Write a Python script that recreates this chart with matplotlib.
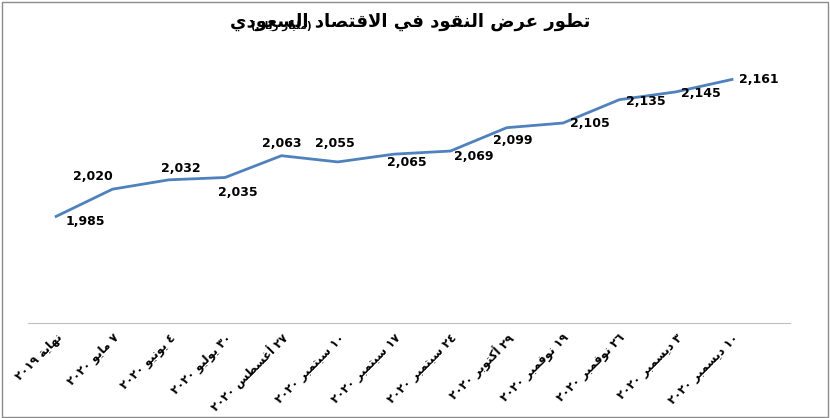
import matplotlib
matplotlib.use("Agg")
import matplotlib.pyplot as plt
from matplotlib.patches import Rectangle

# ---- minimal Arabic shaping (presentation forms) ----
FORMS = {  # isolated, final, initial, medial
    'ا': ('\uFE8D', '\uFE8E', None, None), 'أ': ('\uFE83', '\uFE84', None, None),
    'ب': ('\uFE8F', '\uFE90', '\uFE91', '\uFE92'), 'ة': ('\uFE93', '\uFE94', None, None),
    'ت': ('\uFE95', '\uFE96', '\uFE97', '\uFE98'), 'د': ('\uFEA9', '\uFEAA', None, None),
    'ر': ('\uFEAD', '\uFEAE', None, None), 'س': ('\uFEB1', '\uFEB2', '\uFEB3', '\uFEB4'),
    'ص': ('\uFEB9', '\uFEBA', '\uFEBB', '\uFEBC'), 'ض': ('\uFEBD', '\uFEBE', '\uFEBF', '\uFEC0'),
    'ط': ('\uFEC1', '\uFEC2', '\uFEC3', '\uFEC4'), 'ع': ('\uFEC9', '\uFECA', '\uFECB', '\uFECC'),
    'غ': ('\uFECD', '\uFECE', '\uFECF', '\uFED0'), 'ف': ('\uFED1', '\uFED2', '\uFED3', '\uFED4'),
    'ق': ('\uFED5', '\uFED6', '\uFED7', '\uFED8'), 'ك': ('\uFED9', '\uFEDA', '\uFEDB', '\uFEDC'),
    'ل': ('\uFEDD', '\uFEDE', '\uFEDF', '\uFEE0'), 'م': ('\uFEE1', '\uFEE2', '\uFEE3', '\uFEE4'),
    'ن': ('\uFEE5', '\uFEE6', '\uFEE7', '\uFEE8'), 'ه': ('\uFEE9', '\uFEEA', '\uFEEB', '\uFEEC'),
    'و': ('\uFEED', '\uFEEE', None, None), 'ي': ('\uFEF1', '\uFEF2', '\uFEF3', '\uFEF4'),
}
LIG = {'ا': ('\uFEFB', '\uFEFC'), 'أ': ('\uFEF7', '\uFEF8')}
MIRROR = {'(': ')', ')': '('}


def joins_next(c):
    return c in FORMS and FORMS[c][2] is not None


def shape(text):
    chars = list(text)
    out = []
    i = 0
    while i < len(chars):
        c = chars[i]
        if c not in FORMS:
            out.append(MIRROR.get(c, c)); i += 1; continue
        prev = chars[i - 1] if i > 0 else ''
        pj = joins_next(prev)
        if c == 'ل' and i + 1 < len(chars) and chars[i + 1] in LIG:
            out.append(LIG[chars[i + 1]][1 if pj else 0]); i += 2; continue
        nxt = chars[i + 1] if i + 1 < len(chars) else ''
        nj = joins_next(c) and nxt in FORMS
        iso, fin, ini, med = FORMS[c]
        if pj and nj:
            out.append(med)
        elif pj:
            out.append(fin)
        elif nj:
            out.append(ini)
        else:
            out.append(iso)
        i += 1
    s = ''.join(out)[::-1]
    res, run = [], []
    for ch in s:
        if ch.isdigit():
            run.append(ch)
        else:
            res.extend(run[::-1]); run = []; res.append(ch)
    res.extend(run[::-1])
    return ''.join(res)


# ---- data ----
categories = ["نهاية ٢٠١٩", "٧ مايو ٢٠٢٠", "٤ يونيو ٢٠٢٠", "٣٠ يوليو ٢٠٢٠",
              "٢٧ أغسطس ٢٠٢٠", "١٠ سبتمبر ٢٠٢٠", "١٧ سبتمبر ٢٠٢٠", "٢٤ سبتمبر ٢٠٢٠",
              "٢٩ أكتوبر ٢٠٢٠", "١٩ نوفمبر ٢٠٢٠", "٢٦ نوفمبر ٢٠٢٠", "٣ ديسمبر ٢٠٢٠",
              "١٠ ديسمبر ٢٠٢٠"]
values = [1985, 2020, 2032, 2035, 2063, 2055, 2065, 2069, 2099, 2105, 2135, 2145, 2161]
title_main = "تطور عرض النقود في الاقتصاد السعودي"
title_unit = "(مليار ريال)"

# label offsets in points (style)
offsets = [(21, -4), (-14, 9), (9, 8), (9, -11), (0, 9), (-2, 13), (9, -6),
           (17, -4), (4, -9), (19, 0), (19, -1), (18, -1), (19, 0)]

plt.rcParams['font.family'] = ['DejaVu Sans']
fig = plt.figure(figsize=(8.3, 4.18), dpi=100)
fig.patches.append(Rectangle((0.002, 0.002), 0.995, 0.994, transform=fig.transFigure,
                             fill=False, edgecolor='#8c8c8c', lw=1))
ax = fig.add_axes([28 / 830, 1 - 323 / 418, 762 / 830, 263 / 418])
x = list(range(len(values)))
ax.plot(x, values, color='#4f81bd', lw=2)
for xi, v, (dx, dy) in zip(x, values, offsets):
    ax.annotate(f"{v:,}", (xi, v), xytext=(dx, dy), textcoords='offset points',
                ha='center', va='center', fontsize=9, fontweight='bold')
ax.set_xlim(-0.5, 13.03)
ax.set_ylim(1848, 2186)
ax.set_yticks([])
ax.set_xticks(x)
ax.set_xticklabels([shape(c) for c in categories], rotation=45, ha='right',
                   rotation_mode='anchor', fontsize=8.5, fontweight='bold')
ax.tick_params(axis='x', length=0, pad=6)
for s in ['top', 'right', 'left']:
    ax.spines[s].set_visible(False)
ax.spines['bottom'].set_color('#bfbfbf')

fig.text(590 / 830, 1 - 22 / 418, shape(title_main), ha='right', va='center',
         fontsize=13, fontweight='bold')
fig.text(312 / 830, 1 - 26 / 418, shape(title_unit), ha='right', va='center',
         fontsize=7.5, fontweight='bold')

fig.savefig('out.png', dpi=100)
